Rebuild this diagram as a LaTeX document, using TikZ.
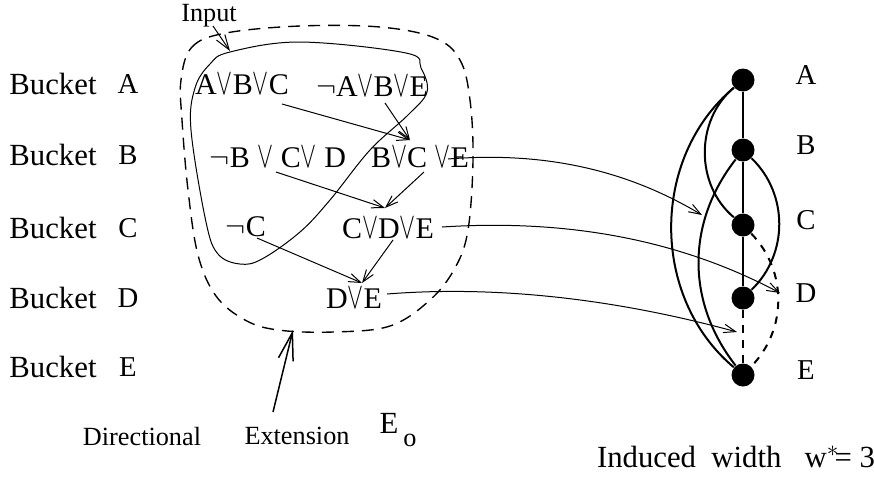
\documentclass[tikz,border=0pt]{standalone}
\usepackage{fontspec}
\usepackage{graphicx}
\setmainfont{Liberation Serif}
\usetikzlibrary{arrows.meta,calc}

\newcommand{\vor}{\scalebox{0.8}[1.25]{$\vee$}}

\begin{document}
\begin{tikzpicture}[x=0.4pt,y=-0.4pt,
  bucket/.style={font=\fontsize{12.3}{14}\selectfont},
  letter/.style={font=\fontsize{10.5}{12}\selectfont},
  tag/.style={font=\fontsize{11.5}{13}\selectfont},
  clause/.style={font=\fontsize{12}{14}\selectfont,inner sep=1pt},
  thinarrow/.style={thin,-{Straight Barb[length=4.8pt,width=3.4pt]}},
  vtx/.style={circle,fill=black,inner sep=0pt,minimum size=9.2pt},
  edge/.style={line width=0.8pt},
  extline/.style={line width=0.55pt,dash pattern=on 4.8pt off 3.2pt}]
\useasboundingbox (0,0) rectangle (874,476);

%Buckets
\foreach \b/\y in {A/84,B/155,C/228,D/298,E/367}{
  \node[bucket] (bk\b) at (53,\y) {Bucket};
  \node[tag] (lt\b) at (128,\y) {\b};
}

%Clauses
\node[clause] (abc)  at (242,84)  {A\vor B\vor C};
\node[clause] (nabe) at (372,86)  {$\neg$A\vor B\vor E};
\node[clause] (nbcd) at (278,157) {$\neg$B \vor\ C\vor\ D};
\node[clause] (bce)  at (420,157) {B\vor C \vor E};
\node[clause] (nc)   at (246,227) {$\neg$C};
\node[clause] (cde)  at (388,228) {C\vor D\vor E};
\node[clause] (de)   at (354,298) {D\vor E};

%resolvents
\draw[thinarrow] ($(abc)+(40,20)$)  -- ($(bce)+(-10,-17)$);
\draw[thinarrow] ($(nabe)+(13,17)$) -- ($(bce)+(-10,-17)$);
\draw[thinarrow] ($(nbcd)+(-2,15)$) -- ($(cde)+(-3,-20)$);
\draw[thinarrow] ($(bce)+(4,15)$)   -- ($(cde)+(-3,-20)$);
\draw[thinarrow] ($(nc)+(11,11)$)   -- ($(de)+(8,-15)$);
\draw[thinarrow] ($(cde)+(5,12)$)   -- ($(de)+(8,-15)$);

%Input (solid)
\draw[thin] plot[smooth cycle,tension=0.6] coordinates {(230,52) (300,42) (406,53) (421,68) (427,92) (408,115) (370,150) (330,200) (300,232) (262,259) (240,264) (218,254) (206,222) (191,130) (195,88) (210,64)};
\node[letter] (input) at (209,16) {Input};
\coordinate (inTip) at (230,51);
\draw[thin,-{Straight Barb[length=6pt,width=4pt]}] (213,26) -- (inTip);

%Directional extension (dashed)
\draw[extline] plot[smooth cycle,tension=0.6] coordinates {(181,80) (192,47) (226,33) (300,26) (380,27) (435,38) (460,60) (470,100) (473,160) (468,230) (455,268) (430,300) (390,326) (333,332) (278,330) (245,320) (216,296) (198,255) (188,190) (182,120)};
\node[letter] (dir) at (142,437) {Directional};
\node[letter] (ext) at (297,436) {Extension};
\node[bucket] (eo)  at (398,430) {E\hspace{2pt}\raisebox{-5pt}{\fontsize{10.5}{12}\selectfont o}};
\coordinate (extTip) at (293,330);
\draw[line width=0.6pt,-{Straight Barb[length=11pt,width=6pt]}] (273,412) -- (extTip);

%Graph
\foreach \v/\y in {A/80,B/150,C/225,D/298,E/375}{
  \node[vtx] (v\v) at (743,\y) {};
  \node[tag] (g\v) at (806,\y-5) {\v};
}
\draw[edge] (vA) -- (vB) -- (vC) -- (vD);
\draw[edge,dashed] (vD) -- (vE);
\draw[edge] (vA) to[bend right=50] (vC);
\draw[edge] (vA) to[bend right=50] (vE);
\draw[edge] (vB) to[bend right=38] (vE);
\draw[edge] (vB) to[bend left=46] (vD);
\draw[edge,dashed] (vC) to[bend left=44] (vE);

%messages to the graph
\coordinate (tipB) at (702,215);
\coordinate (tipD) at (780,293);
\coordinate (tipE) at (737,332);
\draw[thinarrow] ($(bce)+(28,2)$)  .. controls (560,150) and (640,178) .. (tipB);
\draw[thinarrow] ($(cde)+(54,-1)$) .. controls (580,218) and (690,245) .. (tipD);
\draw[thinarrow] ($(de)+(33,-4)$)  .. controls (500,285) and (620,300) .. (tipE);

\node[bucket] (iw) at (736,457) {Induced\ \ width\ \ \ w$^*$\hspace{-2pt}= 3};

\end{tikzpicture}
\end{document}
